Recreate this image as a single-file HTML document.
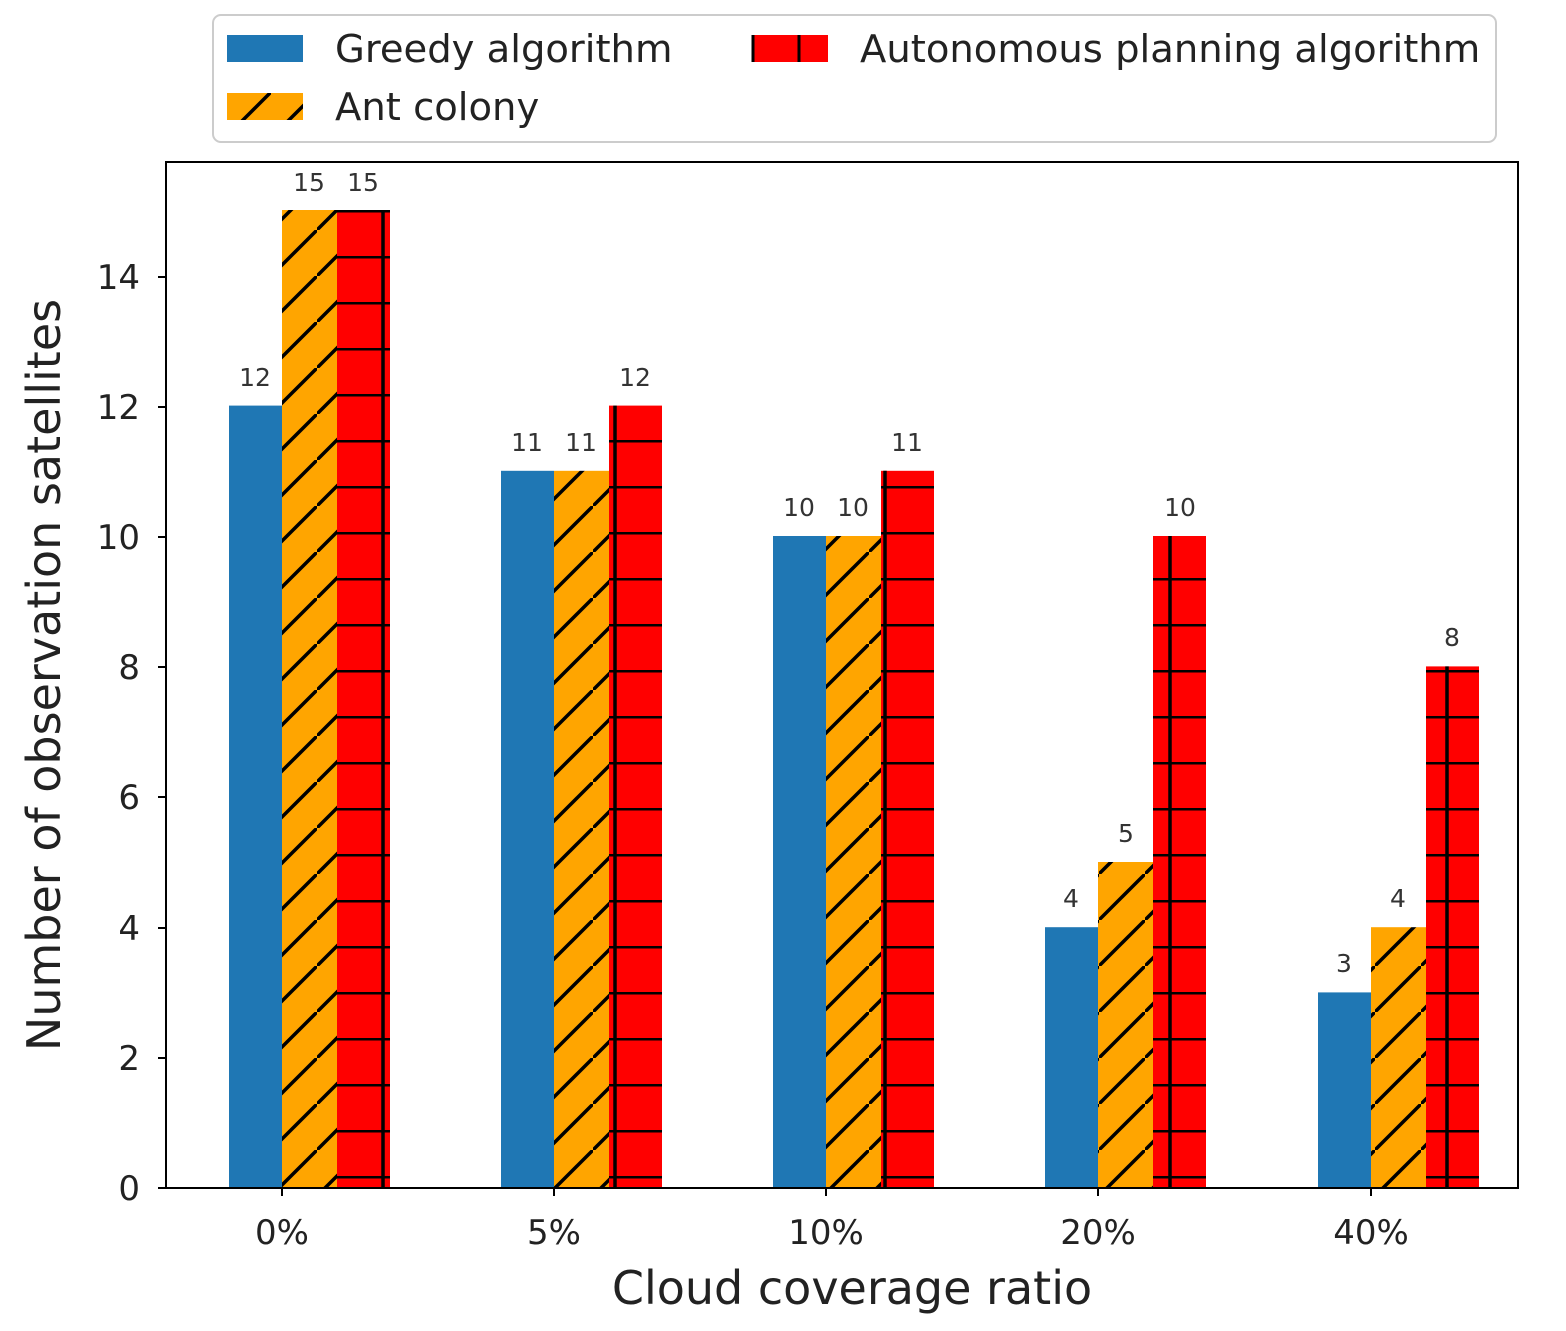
<!DOCTYPE html>
<html><head><meta charset="utf-8"><style>
html,body{margin:0;padding:0;background:#fff;}
svg{display:block;font-family:"DejaVu Sans","Liberation Sans",sans-serif;}
</style></head><body>
<svg id="s" width="1566" height="1331" xmlns="http://www.w3.org/2000/svg">
<defs>
<pattern id="diag" patternUnits="userSpaceOnUse" x="41" y="0" width="46" height="46">
<rect width="46" height="46" fill="#ffa500"/>
<line x1="-4" y1="50" x2="50" y2="-4" stroke="#000" stroke-width="3.5"/>
</pattern>
<pattern id="hor" patternUnits="userSpaceOnUse" x="0" y="210" width="46" height="46">
<rect width="46" height="46" fill="#ff0000"/>
<line x1="0" y1="0" x2="46" y2="0" stroke="#000" stroke-width="5"/>
</pattern>
</defs>
<rect x="213" y="15" width="1283" height="127" rx="8" fill="#fff" stroke="#ccc" stroke-width="2"/>
<rect x="227" y="35" width="76" height="27" fill="#1f77b4"/>
<rect x="227" y="93" width="76" height="27" fill="url(#diag)"/>
<rect x="752" y="35" width="76" height="27" fill="#ff0000"/>
<line x1="753" y1="35" x2="753" y2="62" stroke="#000" stroke-width="3"/>
<line x1="799" y1="35" x2="799" y2="62" stroke="#000" stroke-width="3"/>
<text x="335" y="62" font-size="38.5" fill="#222">Greedy algorithm</text>
<text x="335" y="120" font-size="38.5" fill="#222">Ant colony</text>
<text x="860" y="62" font-size="38.5" fill="#222">Autonomous planning algorithm</text>
<g id="bars"></g>
<rect x="166" y="162" width="1352" height="1026" fill="none" stroke="#000" stroke-width="2"/>
<g font-size="34" fill="#222" text-anchor="end">
<text x="140" y="1200">0</text><text x="140" y="1070">2</text><text x="140" y="940">4</text>
<text x="140" y="809">6</text><text x="140" y="679">8</text><text x="140" y="549">10</text>
<text x="140" y="419">12</text><text x="140" y="289">14</text>
</g>
<g stroke="#000" stroke-width="2">
<line x1="158" y1="1188" x2="166" y2="1188"/><line x1="158" y1="1058" x2="166" y2="1058"/>
<line x1="158" y1="928" x2="166" y2="928"/><line x1="158" y1="797" x2="166" y2="797"/>
<line x1="158" y1="667" x2="166" y2="667"/><line x1="158" y1="537" x2="166" y2="537"/>
<line x1="158" y1="407" x2="166" y2="407"/><line x1="158" y1="277" x2="166" y2="277"/>
<line x1="282" y1="1188" x2="282" y2="1196"/><line x1="554" y1="1188" x2="554" y2="1196"/>
<line x1="826" y1="1188" x2="826" y2="1196"/><line x1="1098" y1="1188" x2="1098" y2="1196"/>
<line x1="1371" y1="1188" x2="1371" y2="1196"/>
</g>
<g font-size="34" fill="#222" text-anchor="middle">
<text x="282" y="1244">0%</text><text x="554" y="1244">5%</text><text x="826" y="1244">10%</text>
<text x="1098" y="1244">20%</text><text x="1371" y="1244">40%</text>
</g>
<text x="852" y="1304" font-size="46" fill="#222" text-anchor="middle">Cloud coverage ratio</text>
<text transform="translate(60,675) rotate(-90)" font-size="46" fill="#222" text-anchor="middle">Number of observation satellites</text>
<g font-size="25" fill="#333" text-anchor="middle">
<text x="255" y="386">12</text><text x="309" y="191">15</text><text x="363" y="191">15</text>
<text x="527" y="451">11</text><text x="581" y="451">11</text><text x="635" y="386">12</text>
<text x="799" y="516">10</text><text x="853" y="516">10</text><text x="907" y="451">11</text>
<text x="1071" y="907">4</text><text x="1126" y="842">5</text><text x="1180" y="516">10</text>
<text x="1344" y="972">3</text><text x="1398" y="907">4</text><text x="1452" y="646">8</text>
</g>
</svg>
<script>
var ns="http://www.w3.org/2000/svg",g=document.getElementById("bars");
var C=[282,554,826,1098,1371],B=[12,11,10,4,3],O=[15,11,10,5,4],R=[15,12,11,10,8],V=[383,615,885,1170,1447];
function y(v){return 1188-65.2*v;}
function r(x,v,w,f){var e=document.createElementNS(ns,"rect");e.setAttribute("x",x);e.setAttribute("y",y(v));e.setAttribute("width",w);e.setAttribute("height",1188-y(v));e.setAttribute("fill",f);g.appendChild(e);}
function l(x,v){var e=document.createElementNS(ns,"line");e.setAttribute("x1",x);e.setAttribute("x2",x);e.setAttribute("y1",y(v));e.setAttribute("y2",1188);e.setAttribute("stroke","#000");e.setAttribute("stroke-width","3.5");g.appendChild(e);}
for(var i=0;i<5;i++){var c=C[i];r(c-53,B[i],53,"#1f77b4");r(c,O[i],55,"url(#diag)");r(c+55,R[i],53,"url(#hor)");l(V[i],R[i]);}
</script>
</body></html>
